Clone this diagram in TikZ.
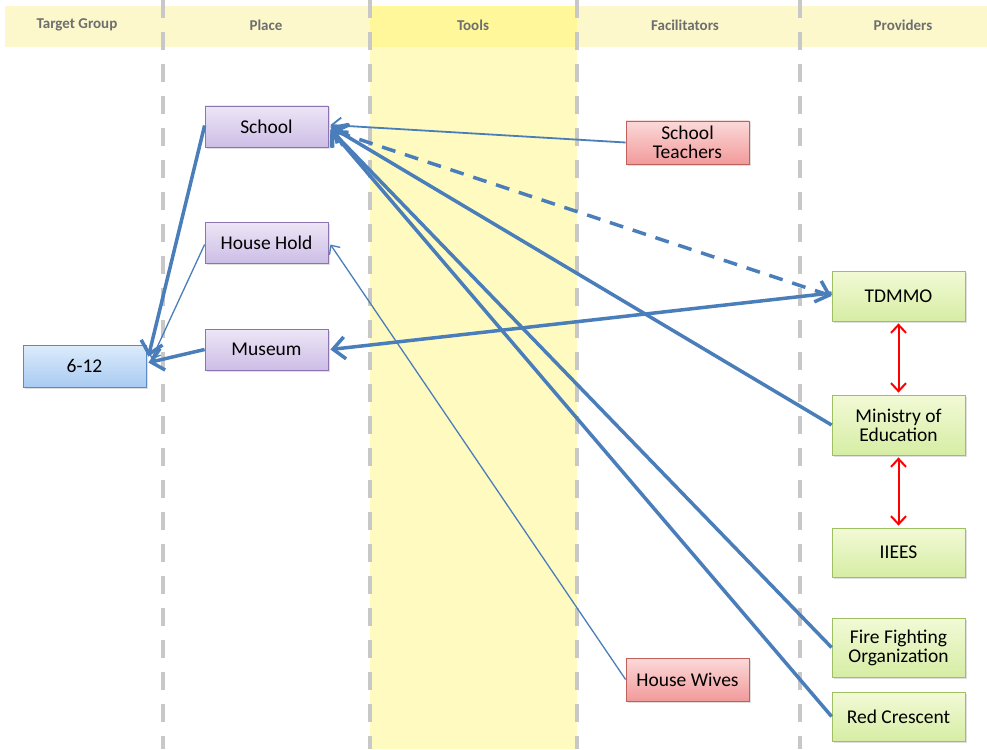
\documentclass[tikz,border=0pt]{standalone}
\usepackage{fontspec}
\setmainfont{Carlito}
\usetikzlibrary{arrows.meta,shadows}
\definecolor{lineblue}{HTML}{4A7EBB}
\definecolor{hdrband}{HTML}{FCF8CC}
\definecolor{toolcol}{HTML}{FFFBC0}
\definecolor{toolhdr}{HTML}{FFF79A}
\definecolor{sepgray}{HTML}{C8C8C8}
\definecolor{hdrtext}{HTML}{6E6E6E}
\definecolor{pltop}{HTML}{EDE6F6}
\definecolor{plbot}{HTML}{CDBDE6}
\definecolor{plbrd}{HTML}{8C74B0}
\definecolor{agtop}{HTML}{DCEBFB}
\definecolor{agbot}{HTML}{A9CBF2}
\definecolor{agbrd}{HTML}{5A8AC8}
\definecolor{fctop}{HTML}{FBD9D9}
\definecolor{fcbot}{HTML}{F29A9A}
\definecolor{fcbrd}{HTML}{C0605D}
\definecolor{prtop}{HTML}{F2FAD6}
\definecolor{prbot}{HTML}{D6EDA4}
\definecolor{prbrd}{HTML}{9FC062}
\tikzset{
  box/.style={draw, line width=0.8pt, inner sep=2pt, align=center,
    font=\fontsize{19.5}{22}\selectfont, text=black,
    drop shadow={opacity=0.25, shadow xshift=1.5pt, shadow yshift=-1.5pt}},
  placebox/.style={box, draw=plbrd, top color=pltop, bottom color=plbot,
    minimum width=123pt, minimum height=41pt},
  agebox/.style={box, draw=agbrd, top color=agtop, bottom color=agbot,
    minimum width=123pt, minimum height=42pt},
  facbox/.style={box, draw=fcbrd, top color=fctop, bottom color=fcbot,
    minimum width=123pt, minimum height=43pt},
  provbox/.style={box, draw=prbrd, top color=prtop, bottom color=prbot,
    minimum width=133pt},
  hdr/.style={font=\bfseries\fontsize{15}{17}\selectfont, text=hdrtext},
  sep/.style={draw=sepgray, line width=4pt, dash pattern=on 18pt off 14pt},
  thick link/.style={draw=lineblue, line width=3.5pt, -{Straight Barb[length=12pt,width=22pt]}},
  mid link/.style={draw=lineblue, line width=1.8pt, -{Straight Barb[length=9pt,width=16pt]}},
  thin link/.style={draw=lineblue, line width=1.3pt, -{Straight Barb[length=7pt,width=13pt]}},
  dashed link/.style={draw=lineblue, line width=3.5pt, dash pattern=on 14pt off 10pt,
    {Straight Barb[length=12pt,width=22pt]}-{Straight Barb[length=12pt,width=22pt]}},
  red link/.style={draw=red, line width=2pt, {Straight Barb[length=8pt,width=15pt]}-{Straight Barb[length=8pt,width=15pt]}}
}
\begin{document}
\begin{tikzpicture}[x=1pt,y=-1pt]
\useasboundingbox (0,0) rectangle (987,749);
\fill[white] (0,0) rectangle (987,749);
% header band and tools column
\fill[hdrband] (5,6) rectangle (987,47);
\fill[toolcol] (370,47) rectangle (577,749);
\fill[toolhdr] (370,6) rectangle (577,47);
% column separators
\foreach \x in {163,370,577,800} \draw[sep] (\x,0) -- (\x,749);
% header texts
\node[hdr] (h1) at (77,25) {Target Group};
\node[hdr] (h2) at (266,25) {Place};
\node[hdr] (h3) at (473,25) {Tools};
\node[hdr] (h4) at (685,25) {Facilitators};
\node[hdr] (h5) at (903,25) {Providers};
% nodes
\node[agebox] (age) at (84.5,366) {6-12};
\node[placebox] (school) at (266.5,126.5) {School};
\node[placebox] (house) at (266.5,242.5) {House Hold};
\node[placebox] (museum) at (266.5,349.5) {Museum};
\node[facbox] (teach) at (687.5,142.5) {School\\[-3pt]Teachers};
\node[facbox] (wives) at (687.5,679.5) {House Wives};
\node[provbox, minimum height=50pt] (tdmmo) at (898.5,296) {TDMMO};
\node[provbox, minimum height=60pt] (moe) at (898.5,425) {Ministry of\\[-3pt]Education};
\node[provbox, minimum height=49pt] (iiees) at (898.5,552.5) {IIEES};
\node[provbox, minimum height=59pt] (fire) at (898.5,647.5) {Fire Fighting\\[-3pt]Organization};
\node[provbox, minimum height=49pt] (red) at (898.5,716.5) {Red Crescent};
% connectors to 6-12
\draw[thick link] ([yshift=1pt]school.west) -- ([xshift=2pt,yshift=-12pt]age.north east);
\draw[thin link] ([yshift=-2pt]house.west) -- ([xshift=5pt,yshift=-15pt]age.north east);
\draw[thick link] (museum.west) -- ([xshift=2pt,yshift=-18pt]age.north east);
% connectors to places
\draw[mid link] (teach.west) -- ([xshift=2pt,yshift=1.5pt]school.east);
\draw[dashed link] ([xshift=4pt,yshift=-4pt]school.east) -- (tdmmo.west);
\draw[thick link] ([yshift=3pt]tdmmo.west) -- ([xshift=2pt]museum.east);
\draw[thick link] (moe.west) -- ([xshift=2pt]school.east);
\draw[thick link] (fire.west) -- ([xshift=2pt,yshift=-3pt]school.east);
\draw[thick link] (red.west) -- ([xshift=2pt,yshift=-3pt]school.east);
\draw[thin link] (wives.west) -- ([xshift=2pt,yshift=-2pt]house.east);
% provider relations
\draw[red link] ([yshift=-2pt]tdmmo.south) -- ([yshift=2pt]moe.north);
\draw[red link] ([yshift=-2pt]moe.south) -- ([yshift=2pt]iiees.north);
\end{tikzpicture}
\end{document}
